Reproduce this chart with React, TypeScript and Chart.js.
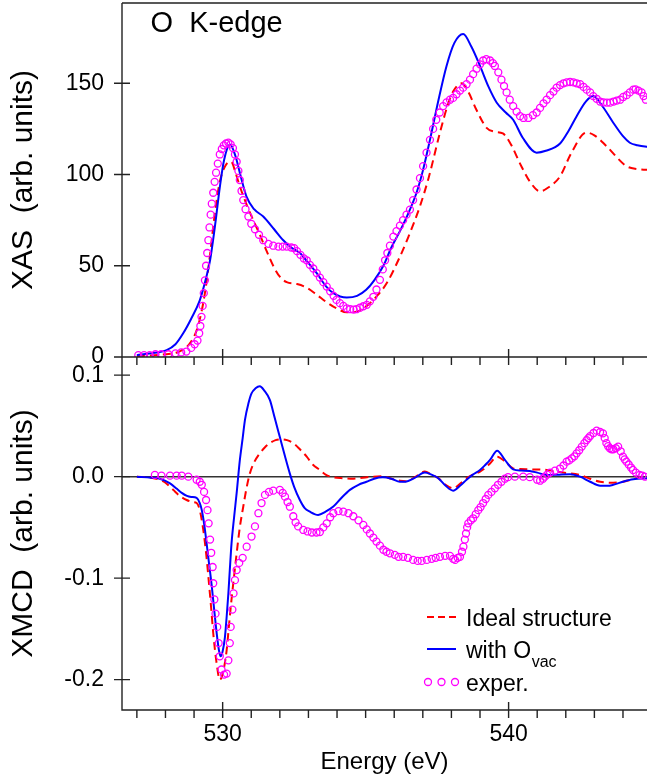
import React, { useEffect, useRef } from 'react';
import { Chart, registerables } from 'chart.js';

Chart.register(...registerables);

const FONT = "'Liberation Sans', Arial, Helvetica, sans-serif";
const RED = '#ff0000';
const BLUE = '#0000ff';
const MAGENTA = '#ff00ff';

// ---- axes ----
const energyMin = 526.48;
const energyMax = 544.84;
const energyTicks = [527, 528, 529, 530, 531, 532, 533, 534, 535, 536, 537, 538, 539, 540, 541, 542, 543, 544];
const energyLabelTicks = [530, 540];

const xasMin = 0;
const xasMax = 194;
const xasTicks = [0, 50, 100, 150];

const xmcdMin = -0.2299;
const xmcdMax = 0.1179;
const xmcdTicks = [-0.2, -0.1, 0, 0.1];

const panelTitle = 'O  K-edge';
const xasAxisTitle = 'XAS  (arb. units)';
const xmcdAxisTitle = 'XMCD  (arb. units)';
const energyAxisTitle = 'Energy (eV)';
const legendIdeal = 'Ideal structure';
const legendOvac = 'with O';
const legendOvacSub = 'vac';
const legendExper = 'exper.';

// ---- XAS: [energy, intensity] ----
const xasIdeal = [
  [527.0, 0.5], [527.5, 0.8], [528.0, 1.5], [528.4, 2.5], [528.7, 5], [528.9, 8.5], [529.1, 15], [529.25, 24],
  [529.4, 37], [529.55, 55], [529.73, 79], [529.9, 96], [530.1, 105], [530.3, 107], [530.45, 101], [530.6, 93.6],
  [530.85, 83], [531.07, 75], [531.3, 67], [531.54, 58], [531.8, 49], [532.0, 44], [532.24, 41], [532.6, 40],
  [532.94, 38], [533.3, 34], [533.64, 30], [534.0, 26.5], [534.34, 24.5], [534.7, 25], [535.04, 28], [535.4, 33.5],
  [535.74, 40.5], [536.2, 55], [536.5, 66], [536.9, 82.6], [537.2, 98], [537.6, 123], [537.85, 137], [538.06, 145.5],
  [538.36, 150], [538.6, 145], [538.87, 135.6], [539.23, 125.6], [539.5, 123.5], [539.8, 122.5], [540.1, 116],
  [540.4, 106], [540.75, 96], [541.1, 90.8], [541.4, 93], [541.8, 99], [542.2, 112], [542.72, 123], [543.0, 121.5],
  [543.42, 115.6], [544.12, 104.6], [544.5, 103], [545.0, 102.5],
];

const xasOvac = [
  [527.0, 1], [527.5, 2], [528.04, 3.8], [528.35, 7], [528.62, 13], [528.9, 21], [529.2, 31], [529.4, 42],
  [529.56, 53], [529.75, 74], [529.9, 93], [530.05, 108], [530.26, 116.5], [530.45, 110], [530.6, 101], [530.83, 88],
  [531.1, 81], [531.42, 77], [531.8, 70], [532.12, 64], [532.4, 60], [532.7, 57], [533.0, 51.5], [533.29, 46],
  [533.6, 39], [533.87, 35], [534.34, 32.6], [534.7, 33.5], [535.02, 36.8], [535.3, 42], [535.62, 50], [535.9, 60],
  [536.2, 69], [536.5, 79], [536.78, 90], [537.0, 102], [537.25, 119], [537.55, 141], [537.83, 159.5], [538.1, 172],
  [538.41, 177], [538.7, 170], [539.0, 159.5], [539.3, 148], [539.58, 139.5], [539.9, 134], [540.16, 130],
  [540.5, 120], [540.98, 112], [541.3, 113], [541.8, 117], [542.1, 124], [542.38, 132], [542.7, 140], [542.96, 143],
  [543.3, 137], [543.66, 128.4], [544.0, 121], [544.24, 117.4], [544.5, 116], [545.0, 115],
];

const xasExper = [
  [527.05, 1], [527.25, 1], [527.45, 1], [527.65, 1.5], [527.85, 1.5], [528.1, 1.5], [528.35, 2], [528.55, 2.5],
  [528.73, 3], [528.9, 5], [529.02, 7], [529.12, 9], [529.18, 13], [529.22, 17], [529.26, 22], [529.3, 28],
  [529.34, 35], [529.38, 42], [529.42, 50], [529.46, 57], [529.5, 64], [529.54, 71], [529.58, 78], [529.62, 84],
  [529.67, 90], [529.72, 96], [529.77, 101], [529.83, 106], [529.9, 111], [529.97, 114], [530.04, 116], [530.12, 117],
  [530.2, 117.5], [530.28, 116.5], [530.36, 114.5], [530.43, 111], [530.49, 107], [530.55, 102], [530.6, 97],
  [530.66, 91], [530.72, 86], [530.8, 81], [530.9, 77], [531.0, 73], [531.13, 70], [531.27, 67], [531.42, 64],
  [531.6, 62], [531.77, 61], [531.95, 60.5], [532.1, 60.5], [532.24, 60.5], [532.4, 60], [532.5, 59.7], [532.6, 58],
  [532.72, 56], [532.84, 54], [532.94, 53], [533.05, 50.5], [533.17, 48.5], [533.29, 46], [533.4, 43.5], [533.52, 41],
  [533.64, 38.6], [533.76, 36], [533.88, 33.5], [533.98, 31.3], [534.1, 29.5], [534.22, 28], [534.34, 26.7],
  [534.46, 26.2], [534.58, 26], [534.68, 26.2], [534.8, 27], [534.92, 27.8], [535.04, 28.6], [535.15, 30.5],
  [535.27, 33], [535.38, 37], [535.5, 42.3], [535.6, 48], [535.68, 53], [535.76, 57], [535.85, 61], [535.97, 66],
  [536.08, 69], [536.2, 72], [536.31, 75], [536.43, 78], [536.55, 80.8], [536.66, 86], [536.78, 91.8], [536.9, 98],
  [537.01, 104.6], [537.13, 112], [537.25, 119], [537.36, 125], [537.47, 130], [537.59, 134], [537.71, 137.5],
  [537.83, 139.5], [537.95, 141], [538.06, 142], [538.18, 144], [538.3, 146], [538.41, 147.6], [538.53, 149.5],
  [538.65, 152], [538.76, 155], [538.88, 158], [539.0, 160.4], [539.11, 162.5], [539.22, 163.2], [539.35, 162.5],
  [539.45, 161], [539.52, 159.5], [539.64, 156], [539.75, 152], [539.84, 148.5], [539.93, 145], [540.04, 141],
  [540.16, 137.5], [540.28, 134.5], [540.4, 132], [540.52, 131], [540.69, 131], [540.85, 132.5], [540.98, 134],
  [541.1, 136.5], [541.22, 139], [541.33, 141], [541.45, 143.5], [541.57, 145.5], [541.68, 147.6], [541.8, 149],
  [541.92, 150], [542.03, 150.5], [542.15, 150.7], [542.27, 150.5], [542.38, 150], [542.5, 149.5], [542.62, 148],
  [542.73, 146.5], [542.85, 145], [542.96, 143], [543.08, 141.5], [543.2, 140], [543.32, 139.5], [543.44, 139.4],
  [543.55, 139.4], [543.67, 140], [543.78, 140.5], [543.9, 141], [544.01, 142.5], [544.13, 143.5], [544.24, 145],
  [544.36, 146.5], [544.44, 146.7], [544.54, 146], [544.65, 145], [544.72, 143], [544.8, 141],
];

// ---- XMCD: [energy, value] ----
const xmcdIdeal = [
  [527.0, 0], [527.5, -0.001], [527.8, -0.003], [528.0, -0.006], [528.27, -0.013], [528.5, -0.019], [528.74, -0.023],
  [528.95, -0.025], [529.09, -0.026], [529.2, -0.033], [529.32, -0.052], [529.42, -0.075], [529.5, -0.0985],
  [529.6, -0.13], [529.67, -0.154], [529.78, -0.182], [529.9, -0.2], [530.02, -0.192], [530.14, -0.171],
  [530.22, -0.147], [530.31, -0.121], [530.4, -0.098], [530.49, -0.0755], [530.6, -0.05], [530.72, -0.0296],
  [530.83, -0.012], [530.95, 0.003], [531.1, 0.014], [531.3, 0.023], [531.48, 0.029], [531.65, 0.033],
  [531.85, 0.036], [532.06, 0.0368], [532.25, 0.036], [532.47, 0.033], [532.7, 0.027], [532.94, 0.0197],
  [533.15, 0.012], [533.4, 0.0066], [533.6, 0.002], [533.87, -0.0006], [534.2, -0.0015], [534.57, -0.002],
  [534.9, -0.001], [535.27, 0], [535.6, 0.0003], [535.9, -0.002], [536.2, -0.004], [536.4, -0.0045], [536.7, -0.001],
  [537.07, 0.005], [537.3, 0.002], [537.54, -0.0015], [537.8, -0.008], [538.06, -0.0115], [538.3, -0.007],
  [538.53, -0.0015], [538.75, 0.002], [539.0, 0.005], [539.2, 0.009], [539.35, 0.013], [539.6, 0.0197],
  [539.87, 0.015], [540.16, 0.0082], [540.4, 0.0075], [540.74, 0.0072], [541.33, 0.0066], [541.91, 0.004],
  [542.5, 0.0017], [542.85, -0.002], [543.2, -0.005], [543.66, -0.006], [544.0, -0.005], [544.36, -0.0026],
  [544.83, 0], [545.0, 0],
];

const xmcdOvac = [
  [527.0, 0], [527.5, -0.001], [527.8, -0.002], [528.16, -0.0066], [528.4, -0.012], [528.57, -0.016], [528.75, -0.019],
  [528.9, -0.02], [529.09, -0.021], [529.2, -0.026], [529.27, -0.033], [529.36, -0.048], [529.44, -0.066],
  [529.53, -0.087], [529.62, -0.108], [529.7, -0.13], [529.79, -0.154], [529.87, -0.171], [529.93, -0.177],
  [530.0, -0.172], [530.08, -0.158], [530.14, -0.138], [530.2, -0.115], [530.25, -0.092], [530.31, -0.066],
  [530.4, -0.04], [530.49, -0.016], [530.6, 0.016], [530.7, 0.038], [530.78, 0.056], [530.9, 0.072], [531.01, 0.082],
  [531.15, 0.087], [531.3, 0.089], [531.45, 0.085], [531.65, 0.0756], [531.82, 0.058], [532.0, 0.039], [532.18, 0.02],
  [532.35, 0.003], [532.5, -0.01], [532.7, -0.023], [532.87, -0.031], [533.05, -0.0345], [533.34, -0.0377],
  [533.6, -0.0345], [533.87, -0.0295], [534.15, -0.021], [534.45, -0.013], [534.75, -0.008], [535.03, -0.005],
  [535.3, -0.002], [535.6, -0.0007], [535.9, -0.002], [536.2, -0.005], [536.4, -0.005], [536.7, -0.0015],
  [537.07, 0.004], [537.3, 0.002], [537.54, -0.0015], [537.8, -0.009], [538.06, -0.0138], [538.3, -0.009],
  [538.53, -0.003], [538.75, 0.002], [539.0, 0.0066], [539.2, 0.012], [539.35, 0.0165], [539.6, 0.0256],
  [539.87, 0.0165], [540.16, 0.0072], [540.45, 0.006], [540.74, 0.0056], [541.0, 0.004], [541.33, 0.0017],
  [541.7, 0.002], [542.15, 0.0025], [542.5, 0], [542.85, -0.005], [543.2, -0.009], [543.45, -0.009],
  [543.66, -0.008], [544.0, -0.005], [544.36, -0.0026], [544.83, -0.0015], [545.0, -0.001],
];

const xmcdExper = [
  [527.63, 0.0017], [527.86, 0.001], [528.16, 0.001], [528.39, 0.001], [528.57, 0.001], [528.8, 0], [529.09, -0.003],
  [529.2, -0.005], [529.27, -0.008], [529.35, -0.015], [529.42, -0.023], [529.47, -0.033], [529.51, -0.046],
  [529.56, -0.062], [529.6, -0.075], [529.65, -0.089], [529.67, -0.105], [529.71, -0.121], [529.75, -0.135],
  [529.81, -0.148], [529.86, -0.164], [529.9, -0.177], [529.96, -0.19], [530.05, -0.195], [530.14, -0.194],
  [530.2, -0.181], [530.25, -0.164], [530.28, -0.148], [530.34, -0.131], [530.38, -0.115], [530.43, -0.102],
  [530.49, -0.092], [530.58, -0.085], [530.7, -0.08], [530.84, -0.069], [531.01, -0.059], [531.13, -0.049],
  [531.25, -0.036], [531.36, -0.026], [531.48, -0.018], [531.62, -0.015], [531.77, -0.0138], [532.0, -0.013],
  [532.1, -0.016], [532.18, -0.0197], [532.27, -0.025], [532.35, -0.0296], [532.47, -0.039], [532.55, -0.045],
  [532.64, -0.049], [532.82, -0.0525], [532.97, -0.054], [533.12, -0.055], [533.28, -0.055], [533.4, -0.0545],
  [533.52, -0.05], [533.64, -0.046], [533.76, -0.04], [533.87, -0.036], [534.05, -0.034], [534.22, -0.0345],
  [534.4, -0.036], [534.57, -0.039], [534.75, -0.043], [534.92, -0.0476], [535.04, -0.052], [535.15, -0.056],
  [535.27, -0.06], [535.38, -0.064], [535.5, -0.068], [535.62, -0.072], [535.73, -0.074], [535.85, -0.0755],
  [536.02, -0.077], [536.15, -0.079], [536.31, -0.079], [536.48, -0.08], [536.66, -0.082], [536.82, -0.083],
  [536.96, -0.083], [537.14, -0.082], [537.31, -0.081], [537.45, -0.08], [537.6, -0.079], [537.78, -0.078],
  [537.95, -0.078], [538.06, -0.081], [538.13, -0.082], [538.22, -0.08], [538.3, -0.079], [538.37, -0.074],
  [538.42, -0.069], [538.47, -0.062], [538.51, -0.056], [538.55, -0.05], [538.59, -0.046], [538.68, -0.043],
  [538.76, -0.041], [538.85, -0.037], [538.94, -0.033], [539.02, -0.03], [539.11, -0.026], [539.2, -0.022],
  [539.29, -0.018], [539.4, -0.015], [539.52, -0.0115], [539.63, -0.008], [539.75, -0.005], [539.87, -0.002],
  [539.98, -0.0005], [540.22, 0], [540.51, 0], [540.74, -0.0005], [541.0, -0.003], [541.1, -0.004], [541.2, -0.002],
  [541.27, 0], [541.35, 0.002], [541.45, 0.004], [541.62, 0.006], [541.8, 0.008], [541.92, 0.011], [542.03, 0.0148],
  [542.12, 0.016], [542.21, 0.018], [542.3, 0.02], [542.38, 0.023], [542.47, 0.026], [542.56, 0.0296],
  [542.65, 0.033], [542.73, 0.036], [542.79, 0.038], [542.85, 0.04], [542.97, 0.043], [543.08, 0.0453],
  [543.2, 0.044], [543.3, 0.0427], [543.36, 0.038], [543.42, 0.033], [543.48, 0.03], [543.54, 0.028], [543.6, 0.027],
  [543.66, 0.027], [543.75, 0.028], [543.83, 0.0296], [543.92, 0.025], [544.0, 0.0197], [544.06, 0.017],
  [544.12, 0.0148], [544.2, 0.012], [544.28, 0.009], [544.35, 0.0066], [544.45, 0.004], [544.58, 0.0017],
  [544.68, 0.001], [544.76, 0],
];

const toXY = (pairs: number[][]) => pairs.map(([x, y]) => ({ x, y }));

function framePlugin(opts: { yTicks: number[]; drawTop: boolean; zeroLine: boolean; extra?: (c: any) => void }) {
  return {
    id: 'frameTicks',
    beforeDatasetsDraw(chart: any) {
      if (!opts.zeroLine) return;
      const { ctx, chartArea: a } = chart;
      const y0 = chart.scales.y.getPixelForValue(0);
      ctx.save();
      ctx.strokeStyle = '#333';
      ctx.lineWidth = 1.5;
      ctx.beginPath();
      ctx.moveTo(a.left, y0);
      ctx.lineTo(a.right + 2, y0);
      ctx.stroke();
      ctx.restore();
    },
    afterDraw(chart: any) {
      const { ctx, chartArea: a } = chart;
      const xs = chart.scales.x;
      const ys = chart.scales.y;
      ctx.save();
      ctx.strokeStyle = '#222';
      ctx.lineWidth = 1.4;
      ctx.beginPath();
      ctx.moveTo(a.left, a.top);
      ctx.lineTo(a.left, a.bottom);
      ctx.lineTo(a.right + 2, a.bottom);
      if (opts.drawTop) {
        ctx.moveTo(a.left, a.top);
        ctx.lineTo(a.right + 2, a.top);
      }
      for (const v of energyTicks) {
        const px = xs.getPixelForValue(v);
        const major = energyLabelTicks.includes(v);
        ctx.moveTo(px, a.bottom - (major ? 8 : 0));
        ctx.lineTo(px, a.bottom + 8);
      }
      for (const v of opts.yTicks) {
        const py = ys.getPixelForValue(v);
        ctx.moveTo(a.left - 8, py);
        ctx.lineTo(a.left + 8, py);
      }
      ctx.stroke();
      ctx.restore();
      if (opts.extra) opts.extra(chart);
    },
  };
}

const lineSets = (ideal: number[][], ovac: number[][], exper: number[][]) => [
  {
    label: legendExper,
    data: toXY(exper),
    showLine: false,
    pointStyle: 'circle',
    pointRadius: 3.5,
    pointBorderWidth: 1.3,
    pointBorderColor: MAGENTA,
    pointBackgroundColor: 'rgba(0,0,0,0)',
    borderColor: MAGENTA,
    order: 0,
  },
  {
    label: legendOvac + legendOvacSub,
    data: toXY(ovac),
    borderColor: BLUE,
    borderWidth: 2,
    pointRadius: 0,
    cubicInterpolationMode: 'monotone',
    order: 1,
  },
  {
    label: legendIdeal,
    data: toXY(ideal),
    borderColor: RED,
    borderWidth: 2,
    borderDash: [8, 5],
    pointRadius: 0,
    cubicInterpolationMode: 'monotone',
    order: 2,
  },
];

const fixTicks = (vals: number[]) => (s: any) => {
  s.ticks = vals.map((v) => ({ value: v }));
};

function topConfig(): any {
  return {
    type: 'line',
    data: { datasets: lineSets(xasIdeal, xasOvac, xasExper) },
    options: {
      responsive: false,
      animation: false,
      devicePixelRatio: 1,
      events: [],
      layout: { padding: { top: 3, left: 0, right: 0, bottom: 0 }, autoPadding: false },
      plugins: { legend: { display: false }, tooltip: { enabled: false }, title: { display: false } },
      scales: {
        x: {
          type: 'linear',
          min: energyMin,
          max: energyMax,
          afterBuildTicks: fixTicks(energyTicks),
          ticks: { display: false, autoSkip: false, maxRotation: 0 },
          grid: { display: false, drawTicks: false },
          border: { display: false },
          afterFit: (s: any) => {
            s.height = 23;
            s.paddingLeft = 0;
            s.paddingRight = 0;
          },
        },
        y: {
          type: 'linear',
          min: xasMin,
          max: xasMax,
          afterBuildTicks: fixTicks(xasTicks),
          ticks: {
            font: { family: FONT, size: 23 },
            color: '#000',
            padding: 18,
            autoSkip: false,
            callback: (v: any) => String(v),
          },
          grid: { display: false, drawTicks: false },
          border: { display: false },
          title: {
            display: true,
            text: xasAxisTitle,
            font: { family: FONT, size: 30 },
            color: '#000',
            padding: { top: 6, bottom: 0 },
          },
          afterFit: (s: any) => {
            s.width = 122;
            s.paddingTop = 0;
            s.paddingBottom = 0;
          },
        },
      },
    },
    plugins: [
      framePlugin({
        yTicks: xasTicks,
        drawTop: true,
        zeroLine: false,
        extra: (chart: any) => {
          const { ctx, chartArea: a } = chart;
          ctx.save();
          ctx.fillStyle = '#000';
          ctx.font = `29px ${FONT}`;
          ctx.textBaseline = 'alphabetic';
          ctx.textAlign = 'left';
          ctx.fillText(panelTitle, a.left + 28.5, a.top + 29);
          ctx.restore();
        },
      }),
    ],
  };
}

function bottomConfig(): any {
  return {
    type: 'line',
    data: { datasets: lineSets(xmcdIdeal, xmcdOvac, xmcdExper) },
    options: {
      responsive: false,
      animation: false,
      devicePixelRatio: 1,
      events: [],
      layout: { padding: { top: 17, left: 0, right: 0, bottom: 0 }, autoPadding: false },
      plugins: { legend: { display: false }, tooltip: { enabled: false }, title: { display: false } },
      scales: {
        x: {
          type: 'linear',
          min: energyMin,
          max: energyMax,
          afterBuildTicks: fixTicks(energyTicks),
          ticks: {
            font: { family: FONT, size: 23 },
            color: '#000',
            padding: 11,
            autoSkip: false,
            maxRotation: 0,
            minRotation: 0,
            callback: (v: any) => (energyLabelTicks.includes(Number(v)) ? String(v) : ''),
          },
          grid: { display: false, drawTicks: false },
          border: { display: false },
          title: {
            display: true,
            text: energyAxisTitle,
            font: { family: FONT, size: 24 },
            color: '#000',
            padding: { top: 0, bottom: 3 },
          },
          afterFit: (s: any) => {
            s.height = 70;
            s.paddingLeft = 0;
            s.paddingRight = 0;
          },
        },
        y: {
          type: 'linear',
          min: xmcdMin,
          max: xmcdMax,
          afterBuildTicks: fixTicks(xmcdTicks),
          ticks: {
            font: { family: FONT, size: 23 },
            color: '#000',
            padding: 18,
            autoSkip: false,
            callback: (v: any) => Number(v).toFixed(1),
          },
          grid: { display: false, drawTicks: false },
          border: { display: false },
          title: {
            display: true,
            text: xmcdAxisTitle,
            font: { family: FONT, size: 30 },
            color: '#000',
            padding: { top: 6, bottom: 0 },
          },
          afterFit: (s: any) => {
            s.width = 122;
            s.paddingTop = 0;
            s.paddingBottom = 0;
          },
        },
      },
    },
    plugins: [
      framePlugin({
        yTicks: xmcdTicks,
        drawTop: false,
        zeroLine: true,
        extra: (chart: any) => {
          const { ctx, chartArea: a } = chart;
          const lx = a.left + 305;
          const tx = a.left + 344;
          const rows = [a.top + 260, a.top + 292, a.top + 325];
          ctx.save();
          ctx.lineWidth = 2;
          ctx.strokeStyle = RED;
          ctx.setLineDash([7, 4]);
          ctx.beginPath();
          ctx.moveTo(lx, rows[0]);
          ctx.lineTo(lx + 29, rows[0]);
          ctx.stroke();
          ctx.setLineDash([]);
          ctx.strokeStyle = BLUE;
          ctx.beginPath();
          ctx.moveTo(lx, rows[1]);
          ctx.lineTo(lx + 29, rows[1]);
          ctx.stroke();
          ctx.strokeStyle = MAGENTA;
          ctx.lineWidth = 1.3;
          for (let k = 0; k < 3; k++) {
            ctx.beginPath();
            ctx.arc(lx + 1 + 13.5 * k, rows[2], 3.5, 0, Math.PI * 2);
            ctx.stroke();
          }
          ctx.fillStyle = '#000';
          ctx.textAlign = 'left';
          ctx.textBaseline = 'alphabetic';
          ctx.font = `23px ${FONT}`;
          ctx.fillText(legendIdeal, tx, rows[0] + 9);
          ctx.fillText(legendOvac, tx, rows[1] + 9);
          const w = ctx.measureText(legendOvac).width;
          ctx.fillText(legendExper, tx, rows[2] + 9);
          ctx.font = `16px ${FONT}`;
          ctx.fillText(legendOvacSub, tx + w + 0.5, rows[1] + 18);
          ctx.restore();
        },
      }),
    ],
  };
}

export default function App() {
  const topRef = useRef<HTMLCanvasElement>(null);
  const botRef = useRef<HTMLCanvasElement>(null);

  useEffect(() => {
    const top = new Chart(topRef.current as HTMLCanvasElement, topConfig());
    const bot = new Chart(botRef.current as HTMLCanvasElement, bottomConfig());
    return () => {
      top.destroy();
      bot.destroy();
    };
  }, []);

  return (
    <div
      style={{
        position: 'absolute',
        left: 0,
        top: 0,
        width: 647,
        height: 780,
        overflow: 'hidden',
        background: '#fff',
      }}
    >
      <canvas
        ref={topRef}
        width={647}
        height={380}
        style={{ position: 'absolute', left: 0, top: 0, width: 647, height: 380 }}
      />
      <canvas
        ref={botRef}
        width={647}
        height={440}
        style={{ position: 'absolute', left: 0, top: 340, width: 647, height: 440 }}
      />
    </div>
  );
}
